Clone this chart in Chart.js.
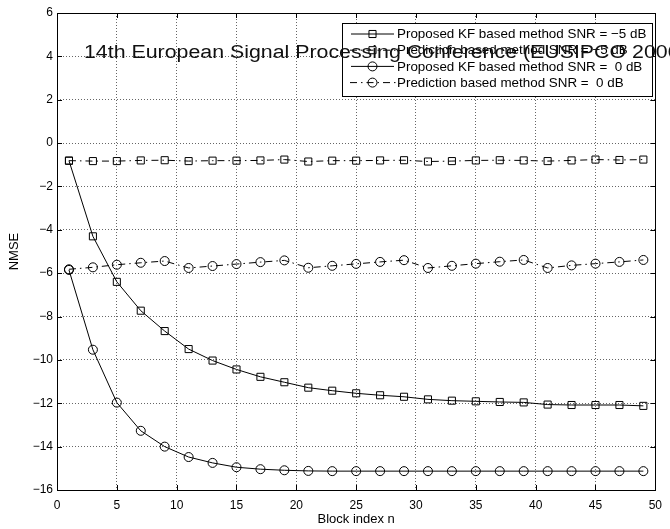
<!DOCTYPE html>
<html>
<head>
<meta charset="utf-8">
<script src="https://cdn.jsdelivr.net/npm/chart.js@4/dist/chart.umd.min.js"></script>
<style>
    html, body { margin: 0; padding: 0; background: #fff; }
    #wrap { width: 670px; height: 529px; }
</style>
</head>
<body>
<div id="wrap"><canvas id="nmse"></canvas></div>
<script>
const blocks = [1, 3, 5, 7, 9, 11, 13, 15, 17, 19, 21, 23, 25, 27, 29, 31, 33, 35, 37, 39, 41, 43, 45, 47, 49];

const kfMinus5 = [-0.81, -4.3, -6.4, -7.73, -8.67, -9.5, -10.03, -10.44, -10.78, -11.03, -11.28, -11.42, -11.54,
    -11.63, -11.7, -11.82, -11.88, -11.91, -11.94, -11.96, -12.06, -12.08, -12.08, -12.08, -12.12];
const predMinus5 = [-0.81, -0.83, -0.83, -0.8, -0.79, -0.83, -0.81, -0.81, -0.8, -0.76, -0.85, -0.81, -0.81,
    -0.8, -0.79, -0.85, -0.83, -0.8, -0.79, -0.8, -0.83, -0.8, -0.76, -0.78, -0.76];
const kf0 = [-5.85, -9.53, -11.97, -13.27, -14.0, -14.48, -14.75, -14.95, -15.04, -15.09, -15.12, -15.13, -15.13,
    -15.13, -15.13, -15.13, -15.13, -15.13, -15.13, -15.13, -15.13, -15.13, -15.13, -15.13, -15.13];
const pred0 = [-5.82, -5.73, -5.61, -5.52, -5.44, -5.76, -5.67, -5.58, -5.49, -5.41, -5.75, -5.66, -5.57,
    -5.48, -5.4, -5.76, -5.66, -5.56, -5.47, -5.39, -5.76, -5.64, -5.56, -5.48, -5.39];

const seriesLabels = [
    "Proposed KF based method SNR = \u22125 dB",
    "Prediction based method SNR = \u22125 dB",
    "Proposed KF based method SNR =  0 dB",
    "Prediction based method SNR =  0 dB"
];
const xTicks = { min: 0, max: 50, step: 5 };
const yTicks = { min: -16, max: 6, step: 2 };
const watermark = "14th European Signal Processing Conference (EUSIPCO 2006)";

const FONT = "'Liberation Sans', Arial, Helvetica, sans-serif";
const DASHDOT = [7, 4, 1.5, 4];

const toPoints = ys => blocks.map((x, i) => ({ x: x, y: ys[i] }));
const minus = v => String(v).replace("-", "\u2212");

function series(label, ys, marker, dash) {
    return {
        label: label,
        data: toPoints(ys),
        borderColor: "#000",
        borderWidth: 1,
        borderDash: dash,
        pointStyle: marker,
        pointRadius: marker === "rect" ? 5 : 4.5,
        pointBorderWidth: 1,
        pointBorderColor: "#000",
        pointBackgroundColor: "rgba(0,0,0,0)",
        tension: 0,
        fill: false
    };
}

const datasets = [
    series(seriesLabels[0], kfMinus5, "rect", []),
    series(seriesLabels[1], predMinus5, "rect", DASHDOT),
    series(seriesLabels[2], kf0, "circle", []),
    series(seriesLabels[3], pred0, "circle", DASHDOT)
];

// box, inward ticks, legend and the pdf watermark
const matlabFrame = {
    id: "matlabFrame",
    afterDatasetsDraw(chart) {
        const ctx = chart.ctx;
        const a = chart.chartArea;
        const xs = chart.scales.x, ys = chart.scales.y;
        ctx.save();
        ctx.strokeStyle = "#000";
        ctx.lineWidth = 1;
        ctx.setLineDash([]);
        ctx.strokeRect(Math.round(a.left) + 0.5, Math.round(a.top) + 0.5,
            Math.round(a.right - a.left), Math.round(a.bottom - a.top));
        ctx.beginPath();
        xs.ticks.forEach(t => {
            const px = Math.round(xs.getPixelForValue(t.value)) + 0.5;
            ctx.moveTo(px, a.bottom); ctx.lineTo(px, a.bottom - 5);
            ctx.moveTo(px, a.top); ctx.lineTo(px, a.top + 5);
        });
        ys.ticks.forEach(t => {
            const py = Math.round(ys.getPixelForValue(t.value)) + 0.5;
            ctx.moveTo(a.left, py); ctx.lineTo(a.left + 5, py);
            ctx.moveTo(a.right, py); ctx.lineTo(a.right - 5, py);
        });
        ctx.stroke();

        // legend
        const lx = 342, ly = 23, lw = 310, lh = 73;
        ctx.fillStyle = "#fff";
        ctx.fillRect(lx, ly, lw, lh);
        ctx.strokeRect(lx + 0.5, ly + 0.5, lw, lh);
        ctx.font = "13.4px " + FONT;
        ctx.textBaseline = "middle";
        ctx.textAlign = "left";
        chart.data.datasets.forEach((ds, i) => {
            const y = ly + 11 + i * 16.2;
            ctx.strokeStyle = "#000";
            ctx.beginPath();
            ctx.setLineDash(ds.borderDash);
            if (ds.borderDash.length) {
                ctx.moveTo(350, y); ctx.lineTo(396, y);
            } else {
                ctx.moveTo(351, y); ctx.lineTo(394, y);
            }
            ctx.stroke();
            ctx.setLineDash([]);
            ctx.fillStyle = "rgba(0,0,0,0)";
            Chart.helpers.drawPoint(ctx, {
                pointStyle: ds.pointStyle, radius: ds.pointRadius, borderWidth: 1, rotation: 0
            }, 372.5, y);
            ctx.fillStyle = "#000";
            ctx.fillText(ds.label, 397, y + 0.5);
        });

        // watermark overprinted from the paper (its font runs wider than Arial)
        ctx.font = "18px " + FONT;
        ctx.textBaseline = "alphabetic";
        ctx.fillStyle = "#111";
        const sx = 433 / ctx.measureText("14th European Signal Processing Conference").width;
        ctx.translate(84, 57.5);
        ctx.scale(sx, 1);
        ctx.fillText(watermark, 0, 0);
        ctx.restore();
    }
};

new Chart(document.getElementById("nmse"), {
    type: "line",
    data: { datasets: datasets },
    options: {
        responsive: true,
        maintainAspectRatio: false,
        animation: false,
        layout: { padding: { top: 13, right: 7, left: 0, bottom: 0 } },
        plugins: {
            legend: { display: false },
            tooltip: { enabled: false }
        },
        scales: {
            x: {
                type: "linear",
                min: xTicks.min,
                max: xTicks.max,
                afterFit: s => { s.height = 39; },
                ticks: {
                    stepSize: xTicks.step,
                    padding: 8,
                    color: "#000",
                    font: { family: FONT, size: 12 },
                    maxRotation: 0,
                    callback: v => minus(v)
                },
                grid: { color: "rgba(0,0,0,0.6)", lineWidth: 1, drawTicks: false },
                border: { display: false, dash: [1, 2] },
                title: {
                    display: true,
                    text: "Block index n",
                    color: "#000",
                    font: { family: FONT, size: 13 },
                    padding: { top: 0, bottom: 2 }
                }
            },
            y: {
                min: yTicks.min,
                max: yTicks.max,
                afterFit: s => { s.width = 57; },
                ticks: {
                    stepSize: yTicks.step,
                    padding: 4,
                    color: "#000",
                    font: { family: FONT, size: 12 },
                    callback: v => minus(v)
                },
                grid: { color: "rgba(0,0,0,0.6)", lineWidth: 1, drawTicks: false },
                border: { display: false, dash: [1, 2] },
                title: {
                    display: true,
                    text: "NMSE",
                    color: "#000",
                    font: { family: FONT, size: 13 },
                    padding: { top: 7, bottom: 0 }
                }
            }
        }
    },
    plugins: [matlabFrame]
});
</script>
</body>
</html>
